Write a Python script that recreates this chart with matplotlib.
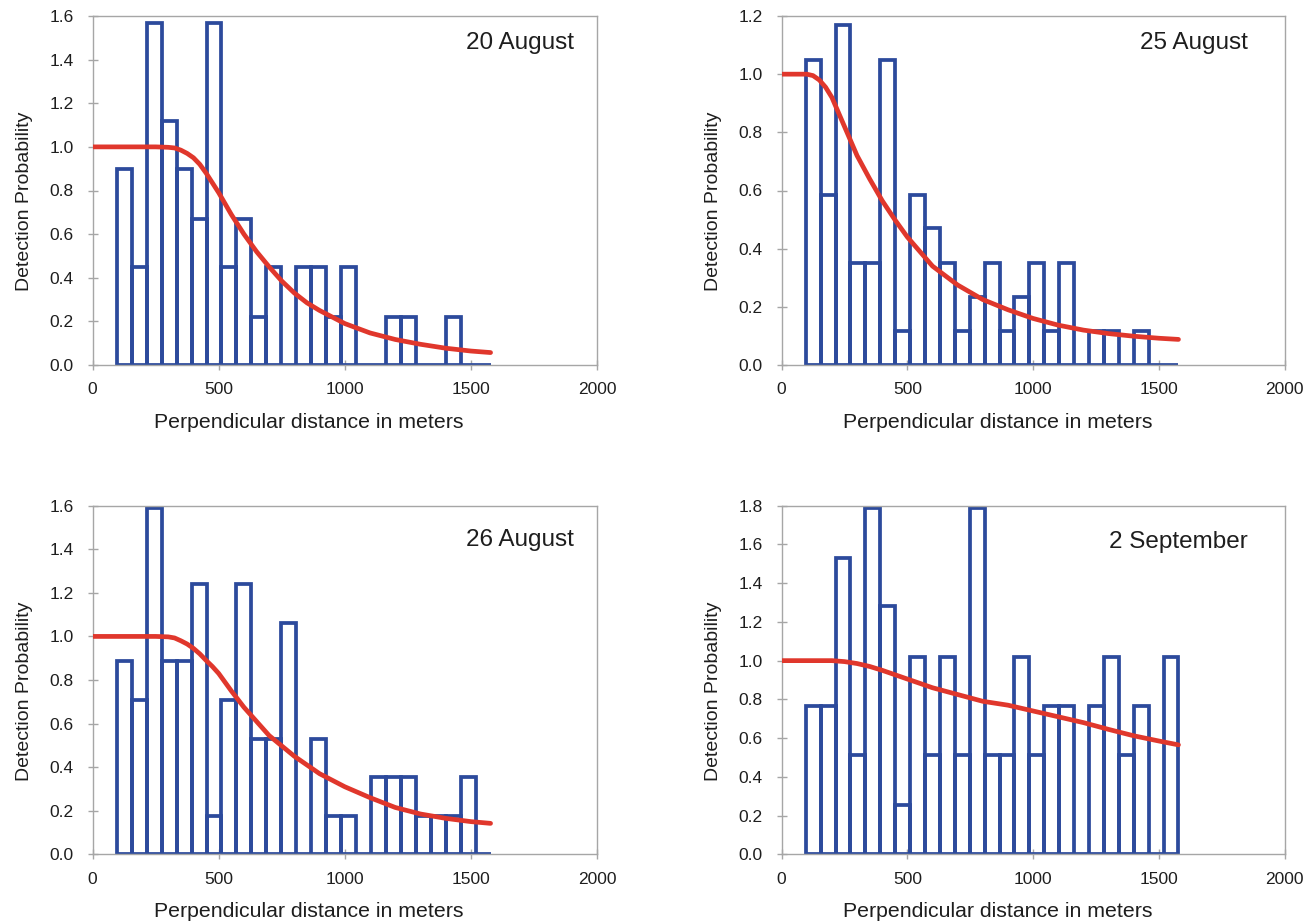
import numpy as np
import matplotlib.pyplot as plt

plt.rcParams['font.family'] = ['Liberation Sans', 'DejaVu Sans']

# 25 distance classes, from about 96 m to 1578 m
bin_edges = np.linspace(96, 1578, 26)

dates = ["20 August", "25 August", "26 August", "2 September"]
y_max = [1.6, 1.2, 1.6, 1.8]

# bar heights (scaled frequencies)
heights_20aug = [0.90, 0.45, 1.57, 1.12, 0.90, 0.67, 1.57, 0.45, 0.67, 0.22, 0.45, 0.0, 0.45,
                 0.45, 0.22, 0.45, 0.0, 0.0, 0.22, 0.22, 0.0, 0.0, 0.22, 0.0, 0.0]
heights_25aug = [1.05, 0.585, 1.17, 0.35, 0.35, 1.05, 0.117, 0.585, 0.47, 0.35, 0.117, 0.234, 0.35,
                 0.117, 0.234, 0.35, 0.117, 0.35, 0.0, 0.117, 0.117, 0.0, 0.117, 0.0, 0.0]
heights_26aug = [0.885, 0.708, 1.59, 0.885, 0.885, 1.24, 0.177, 0.708, 1.24, 0.531, 0.531, 1.06, 0.0,
                 0.531, 0.177, 0.177, 0.0, 0.354, 0.354, 0.354, 0.177, 0.177, 0.177, 0.354, 0.0]
heights_2sep = [0.767, 0.767, 1.53, 0.511, 1.79, 1.28, 0.256, 1.02, 0.511, 1.02, 0.511, 1.79, 0.511,
                0.511, 1.02, 0.511, 0.767, 0.767, 0.0, 0.767, 1.02, 0.511, 0.767, 0.0, 1.02]

# fitted detection curves
curve_x_20aug = [0, 100, 200, 250, 300, 325, 350, 375, 400, 425, 450, 475, 500, 525, 550, 575, 600,
                 650, 700, 750, 800, 850, 900, 1000, 1100, 1200, 1300, 1400, 1500, 1578]
curve_y_20aug = [1.0, 1.0, 1.0, 1.0, 0.998, 0.995, 0.985, 0.97, 0.95, 0.92, 0.88, 0.835, 0.79, 0.74,
                 0.69, 0.645, 0.60, 0.52, 0.45, 0.385, 0.33, 0.285, 0.25, 0.19, 0.147, 0.117, 0.095,
                 0.077, 0.064, 0.057]
curve_x_25aug = [0, 100, 125, 150, 175, 200, 225, 250, 275, 300, 350, 400, 450, 500, 550, 600, 700,
                 800, 900, 1000, 1100, 1200, 1300, 1400, 1500, 1578]
curve_y_25aug = [1.0, 1.0, 0.995, 0.98, 0.955, 0.92, 0.87, 0.82, 0.77, 0.72, 0.64, 0.565, 0.50, 0.44,
                 0.39, 0.34, 0.275, 0.225, 0.19, 0.16, 0.137, 0.12, 0.108, 0.099, 0.092, 0.088]
curve_x_26aug = [0, 100, 200, 250, 300, 325, 350, 375, 400, 425, 450, 475, 500, 550, 600, 650, 700,
                 800, 900, 1000, 1100, 1200, 1300, 1400, 1500, 1578]
curve_y_26aug = [1.0, 1.0, 1.0, 1.0, 0.998, 0.993, 0.98, 0.965, 0.945, 0.92, 0.89, 0.862, 0.83,
                 0.75, 0.675, 0.61, 0.545, 0.45, 0.37, 0.31, 0.26, 0.215, 0.185, 0.165, 0.15, 0.142]
curve_x_2sep = [0, 100, 200, 250, 300, 350, 400, 500, 600, 700, 800, 900, 1000, 1100, 1200, 1300,
                1400, 1500, 1578]
curve_y_2sep = [1.0, 1.0, 1.0, 0.995, 0.985, 0.97, 0.95, 0.905, 0.86, 0.825, 0.79, 0.77, 0.74, 0.71,
                0.68, 0.645, 0.612, 0.585, 0.565]

heights = [heights_20aug, heights_25aug, heights_26aug, heights_2sep]
curves = [(curve_x_20aug, curve_y_20aug), (curve_x_25aug, curve_y_25aug),
          (curve_x_26aug, curve_y_26aug), (curve_x_2sep, curve_y_2sep)]

W, H = 1312, 924
# plot areas in pixels: left, top, right, bottom
boxes = [(92.6, 16, 597, 365), (781.6, 16, 1284.6, 365),
         (92.6, 505.7, 597, 854.3), (781.6, 505.7, 1284.6, 854.3)]
title_pos = [(0.954, 0.922), (0.927, 0.922), (0.954, 0.902), (0.926, 0.897)]

blue = '#2C4A9C'
red = '#E0372C'
grey = '#A6A6A6'
ink = '#1E1E1E'

fig = plt.figure(figsize=(W / 100, H / 100), dpi=100)

centers = (bin_edges[:-1] + bin_edges[1:]) / 2
width = bin_edges[1] - bin_edges[0]

for i in range(4):
    l, t, r, b = boxes[i]
    ax = fig.add_axes([l / W, 1 - b / H, (r - l) / W, (b - t) / H])
    ax.bar(centers, heights[i], width=width, fill=False, edgecolor=blue,
           linewidth=2.7, joinstyle='miter', zorder=2)
    ax.plot(curves[i][0], curves[i][1], color=red, linewidth=3.4,
            solid_capstyle='round', solid_joinstyle='round', zorder=3)

    ax.set_xlim(0, 2000)
    ax.set_ylim(0, y_max[i])
    ax.set_xticks([0, 500, 1000, 1500, 2000])
    ax.set_yticks(np.arange(0, y_max[i] + 0.01, 0.2))
    ax.yaxis.set_major_formatter(plt.FuncFormatter(lambda v, p: f"{v:.1f}"))
    for s in ax.spines.values():
        s.set_color(grey)
        s.set_linewidth(1.0)
    ax.tick_params(direction='inout', length=7, width=1, color=grey,
                   labelsize=12.5, labelcolor=ink)
    ax.tick_params(axis='x', pad=9)
    ax.tick_params(axis='y', pad=10)

    ax.text(title_pos[i][0], title_pos[i][1], dates[i], transform=ax.transAxes,
            ha='right', va='center', fontsize=17.5, color=ink)

    # axis titles placed like the original
    fig.text((l + 0.429 * (r - l)) / W, 1 - (b + 57) / H,
             "Perpendicular distance in meters", ha='center', va='center',
             fontsize=15.3, color=ink)
    fig.text((l - 68) / W, 1 - (b - 0.468 * (b - t)) / H, "Detection Probability",
             rotation=90, ha='center', va='center', fontsize=14, color=ink)

fig.savefig('out.png', dpi=100)
